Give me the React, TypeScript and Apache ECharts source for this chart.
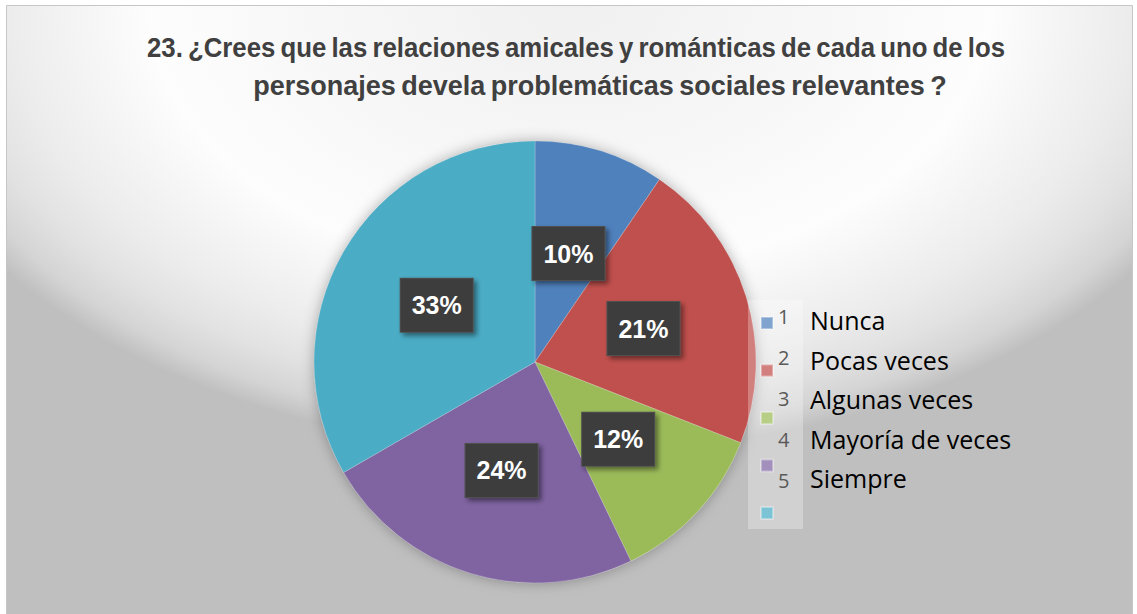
import React, { useEffect, useRef } from 'react';
import * as echarts from 'echarts';

const titleLines = [
  '23. ¿Crees que las relaciones amicales y románticas de cada uno de los',
  'personajes devela problemáticas sociales relevantes ?',
];
const categories = ['Nunca', 'Pocas veces', 'Algunas veces', 'Mayoría de veces', 'Siempre'];
const codes = ['1', '2', '3', '4', '5'];
const counts = [4, 9, 5, 10, 14];
const colors = ['#4f81bd', '#c0504d', '#9bbb59', '#8064a2', '#4bacc6'];

const PIE_CENTER = [535, 362];
const PIE_RADIUS = 221;

export default function App() {
  const ref = useRef<HTMLDivElement>(null);
  useEffect(() => {
    document.body.style.margin = '0';
    const chart = echarts.init(ref.current!, null, { renderer: 'svg' });
    const legendTexts: any[] = [];
    categories.forEach((c, i) => {
      legendTexts.push({
        type: 'text', z: 20, x: 778, y: 316 + i * 41,
        style: { text: codes[i], fill: '#595959', font: '20px "Open Sans", sans-serif', textVerticalAlign: 'middle' },
      });
      legendTexts.push({
        type: 'text', z: 20, x: 810, y: 320 + i * 39.5,
        style: { text: c, fill: '#000000', font: '25px "Open Sans", sans-serif', textVerticalAlign: 'middle' },
      });
    });
    const titleFont = 'bold 27px "Liberation Sans", Arial, sans-serif';
    chart.setOption({
      animation: false,
      color: colors,
      graphic: [
        {
          type: 'rect', z: -10, silent: true,
          shape: { x: 6.5, y: 5.5, width: 1126, height: 720 },
          style: {
            fill: new echarts.graphic.RadialGradient(0.5, 0, 0.622, [
              { offset: 0, color: '#f0f0f0' },
              { offset: 0.35, color: '#f7f7f7' },
              { offset: 0.6, color: '#fdfdfd' },
              { offset: 0.8, color: '#ececec' },
              { offset: 0.88, color: '#e2e2e2' },
              { offset: 0.95, color: '#d4d4d4' },
              { offset: 1, color: '#bfbfbf' },
            ]),
            stroke: '#c6c6c6', lineWidth: 1,
          },
        },
        {
          type: 'rect', z: 10, silent: true,
          shape: { x: 748, y: 300, width: 55, height: 229 },
          style: { fill: 'rgba(255,255,255,0.28)' },
        },
        {
          type: 'text', z: 20, x: 576, y: 48, scaleX: 0.955,
          style: { text: titleLines[0].replace(/ /g, '\u2009'), fill: '#404040', font: titleFont, textAlign: 'center', textVerticalAlign: 'middle' },
        },
        {
          type: 'text', z: 20, x: 600, y: 86,
          style: { text: titleLines[1].replace(/ /g, '\u2009'), fill: '#404040', font: titleFont, textAlign: 'center', textVerticalAlign: 'middle' },
        },
        ...legendTexts,
      ],
      legend: {
        orient: 'vertical', left: 760, top: 316, padding: 0,
        itemWidth: 12, itemHeight: 12, itemGap: 33.5,
        icon: 'rect', selectedMode: false,
        data: categories,
        formatter: () => ' ',
        textStyle: { fontSize: 10, lineHeight: 12 },
      },
      series: [
        {
          type: 'pie', center: PIE_CENTER, radius: PIE_RADIUS, silent: true, z: 1,
          itemStyle: { color: '#bfbfbf', shadowBlur: 14, shadowColor: 'rgba(0,0,0,0.3)' },
          label: { show: false }, labelLine: { show: false },
          data: [{ name: '', value: 1 }],
        },
        {
          type: 'pie', center: PIE_CENTER, radius: PIE_RADIUS, startAngle: 90, clockwise: true,
          silent: true, z: 2,
          itemStyle: { borderColor: 'rgba(255,255,255,0.35)', borderWidth: 0.6 },
          label: {
            show: true, position: 'inside',
            formatter: (p: any) => Math.round(p.percent) + '%',
            color: '#ffffff', fontSize: 25, fontWeight: 'bold', fontFamily: '"Liberation Sans", Arial, sans-serif',
            lineHeight: 26,
            backgroundColor: '#3d3d3d', borderColor: '#505050', borderWidth: 1,
            padding: [14, 11, 13, 11],
            shadowColor: 'rgba(0,0,0,0.45)', shadowBlur: 5, shadowOffsetX: 3, shadowOffsetY: 3,
          },
          labelLine: { show: false },
          data: categories.map((c, i) => ({ name: c, value: counts[i] })),
        },
      ],
    });
    return () => chart.dispose();
  }, []);
  return <div ref={ref} style={{ width: 1137, height: 614 }} />;
}
